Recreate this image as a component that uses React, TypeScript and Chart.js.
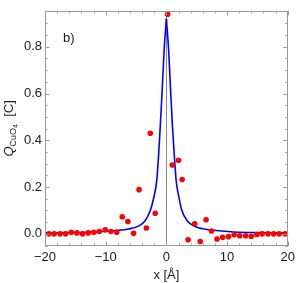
import { useEffect, useRef } from 'react';
import { Chart, registerables } from 'chart.js';

Chart.register(...registerables);

// Measured points (x in Å, Q in C)
const pointX = [
  -19.35, -18.49, -17.51, -16.59, -15.66, -14.75, -13.82, -12.89, -11.98, -11.06,
  -10.08, -9.15, -8.18, -7.27, -6.34, -5.41, -4.5, -3.3, -2.65, -1.84,
  0.21, 0.98, 2.0, 2.6, 3.58, 4.67, 5.58, 6.54, 7.43, 8.34,
  9.27, 10.24, 11.17, 12.08, 13.06, 13.98, 14.91, 15.77, 16.75, 17.67,
  18.59, 19.56,
];
const pointY = [
  0.0, 0.0, 0.0, 0.0, 0.007, 0.004, 0.0, 0.004, 0.007, 0.01,
  0.017, 0.01, 0.007, 0.073, 0.053, 0.002, 0.189, 0.025, 0.43, 0.088,
  0.939, 0.294, 0.315, 0.232, -0.025, 0.043, -0.033, 0.06, 0.012, -0.022,
  -0.015, -0.012, -0.004, -0.008, -0.008, -0.01, -0.003, 0.0, 0.0, 0.0,
  0.0, 0.0,
];

// Fitted curve (left and right branches meet at the cusp)
const curveLeftX = [-20, -16, -13, -11, -8.3, -6.2, -4.55, -3.5, -2.65, -2.11, -1.58, -1.3, -1.02, -0.72, -0.38, 0];
const curveLeftY = [0.004, 0.005, 0.007, 0.0095, 0.014, 0.021, 0.034, 0.056, 0.1, 0.151, 0.23, 0.33, 0.455, 0.6, 0.782, 0.92];
const curveRightX = [0, 0.38, 0.72, 1.0, 1.32, 1.62, 2.11, 2.55, 3.5, 4.55, 5.41, 6.2, 8.2, 11.1, 15, 20];
const curveRightY = [0.92, 0.782, 0.6, 0.46, 0.33, 0.225, 0.151, 0.1, 0.054, 0.034, 0.025, 0.021, 0.014, 0.008, 0.005, 0.004];

const xTicks = [-20, -10, 0, 10, 20];
const yTicks = [0.0, 0.2, 0.4, 0.6, 0.8];
const xMinorTicks = [-20, -18, -16, -14, -12, -10, -8, -6, -4, -2, 0, 2, 4, 6, 8, 10, 12, 14, 16, 18, 20];
const yMinorTicks = [-0.05, 0.0, 0.05, 0.1, 0.15, 0.2, 0.25, 0.3, 0.35, 0.4, 0.45, 0.5, 0.55, 0.6, 0.65, 0.7, 0.75, 0.8, 0.85, 0.9];

const FONT = '"Liberation Sans", Arial, sans-serif';
const FRAME = '#9a9a9a';
const TEXT = '#1a1a1a';

const fmtX = (v: number) => (v < 0 ? '\u2212' + Math.abs(v) : String(v));

const framePlugin = {
  id: 'mmaFrame',
  beforeDatasetsDraw(chart: any) {
    const { ctx, chartArea, scales } = chart;
    const x0 = Math.round(scales.x.getPixelForValue(0)) + 0.5;
    ctx.save();
    ctx.strokeStyle = '#8a8a8a';
    ctx.lineWidth = 1;
    ctx.beginPath();
    ctx.moveTo(x0, chartArea.top);
    ctx.lineTo(x0, chartArea.bottom);
    ctx.stroke();
    ctx.restore();
  },
  afterDraw(chart: any) {
    const { ctx, chartArea, scales } = chart;
    const { left, right, top, bottom } = chartArea;
    const xs = scales.x;
    const ys = scales.y;
    ctx.save();
    ctx.strokeStyle = FRAME;
    ctx.lineWidth = 1;
    ctx.strokeRect(Math.round(left) + 0.5, Math.round(top) + 0.5, Math.round(right - left) - 1, Math.round(bottom - top) - 1);
    ctx.beginPath();
    const major = 4.5;
    const minor = 2.5;
    for (const v of xMinorTicks) {
      const p = Math.round(xs.getPixelForValue(v)) + 0.5;
      const len = xTicks.includes(v) ? major : minor;
      ctx.moveTo(p, bottom);
      ctx.lineTo(p, bottom - len);
      ctx.moveTo(p, top);
      ctx.lineTo(p, top + len);
    }
    for (const v of yMinorTicks) {
      const p = Math.round(ys.getPixelForValue(v)) + 0.5;
      const len = yTicks.some((t) => Math.abs(t - v) < 1e-9) ? major : minor;
      ctx.moveTo(left, p);
      ctx.lineTo(left + len, p);
      ctx.moveTo(right, p);
      ctx.lineTo(right - len, p);
    }
    ctx.stroke();

    // panel label
    ctx.fillStyle = TEXT;
    ctx.font = `13px ${FONT}`;
    ctx.textAlign = 'left';
    ctx.textBaseline = 'alphabetic';
    ctx.fillText('b)', left + 18, top + 31);

    // x title
    ctx.textAlign = 'center';
    ctx.fillText('x [\u00C5]', (left + right) / 2, 279);

    // y title with subscripts
    const segs = [
      { t: 'Q', f: `italic 13px ${FONT}`, dy: 0 },
      { t: 'CuO', f: `9px ${FONT}`, dy: 3 },
      { t: '4', f: `7px ${FONT}`, dy: 5 },
      { t: '  [C]', f: `13px ${FONT}`, dy: 0 },
    ];
    let total = 0;
    const widths: number[] = [];
    for (const s of segs) {
      ctx.font = s.f;
      const w = ctx.measureText(s.t).width;
      widths.push(w);
      total += w;
    }
    ctx.translate(12.5, (top + bottom) / 2);
    ctx.rotate(-Math.PI / 2);
    ctx.textAlign = 'left';
    let cx = -total / 2;
    segs.forEach((s, i) => {
      ctx.font = s.f;
      ctx.fillText(s.t, cx, s.dy);
      cx += widths[i];
    });
    ctx.restore();
  },
};

const curveStyle = {
  borderColor: '#0000ff',
  borderWidth: 1.6,
  pointRadius: 0,
  showLine: true,
  cubicInterpolationMode: 'monotone' as const,
  order: 1,
};

export default function App() {
  const ref = useRef<HTMLCanvasElement | null>(null);

  useEffect(() => {
    document.body.style.margin = '0';
    if (!ref.current) return;
    const chart = new Chart(ref.current, {
      type: 'scatter',
      data: {
        datasets: [
          {
            label: 'points',
            data: pointX.map((x, i) => ({ x, y: pointY[i] })),
            backgroundColor: '#ff0000',
            borderColor: '#ff0000',
            pointRadius: 2.8,
            pointBorderWidth: 0,
            showLine: false,
            order: 0,
          },
          {
            label: 'fit left',
            data: curveLeftX.map((x, i) => ({ x, y: curveLeftY[i] })),
            ...curveStyle,
          },
          {
            label: 'fit right',
            data: curveRightX.map((x, i) => ({ x, y: curveRightY[i] })),
            ...curveStyle,
          },
        ],
      },
      options: {
        responsive: false,
        animation: false,
        layout: { padding: { top: 2, right: 8, left: 0, bottom: 0 } },
        plugins: { legend: { display: false }, tooltip: { enabled: false } },
        scales: {
          x: {
            type: 'linear',
            min: -20,
            max: 20,
            afterBuildTicks: (s: any) => {
              s.ticks = xTicks.map((v) => ({ value: v }));
            },
            afterFit: (s: any) => {
              s.height = 37;
            },
            grid: { display: false, drawTicks: false },
            border: { display: false },
            ticks: {
              padding: 4,
              maxRotation: 0,
              autoSkip: false,
              color: TEXT,
              font: { family: FONT, size: 13 },
              callback: (v: any) => fmtX(Number(v)),
            },
          },
          y: {
            type: 'linear',
            min: -0.052,
            max: 0.954,
            afterBuildTicks: (s: any) => {
              s.ticks = yTicks.map((v) => ({ value: v }));
            },
            afterFit: (s: any) => {
              s.width = 45;
            },
            grid: { display: false, drawTicks: false },
            border: { display: false },
            ticks: {
              padding: 3,
              autoSkip: false,
              color: TEXT,
              font: { family: FONT, size: 13 },
              callback: (v: any) => Number(v).toFixed(1),
            },
          },
        },
      },
      plugins: [framePlugin],
    });
    return () => chart.destroy();
  }, []);

  return (
    <div style={{ width: 299, height: 283 }}>
      <canvas ref={ref} width={299} height={283} style={{ display: 'block' }} />
    </div>
  );
}
